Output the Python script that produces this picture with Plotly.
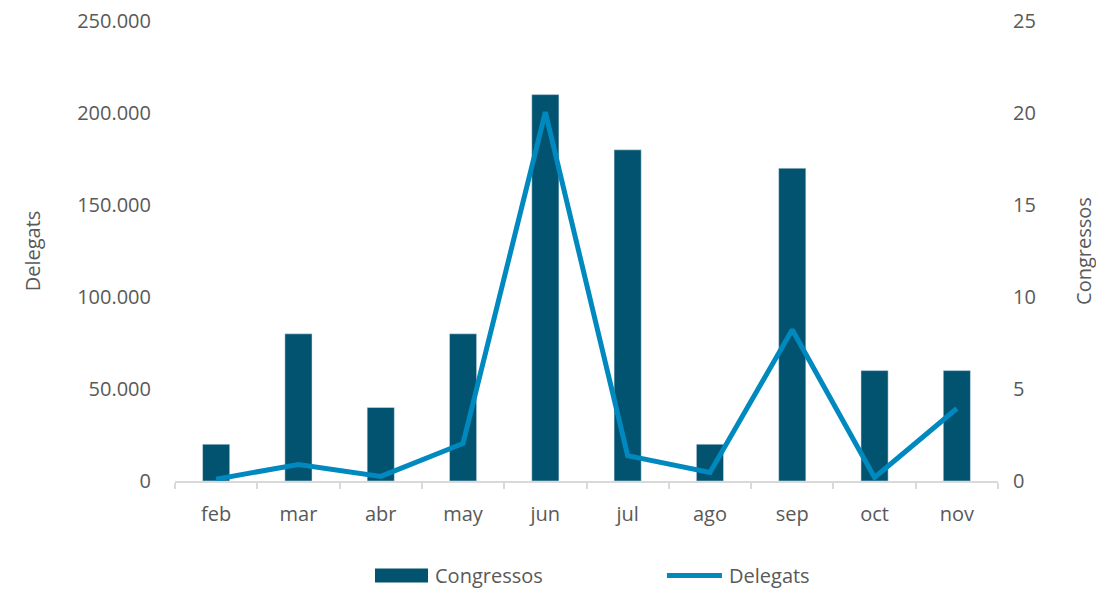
import plotly.graph_objects as go

months = ["feb", "mar", "abr", "may", "jun", "jul", "ago", "sep", "oct", "nov"]
congressos = [2, 8, 4, 8, 21, 18, 2, 17, 6, 6]
delegats = [1000, 9000, 2500, 20400, 200500, 13800, 4600, 82200, 1900, 39400]
left_ticks = [0, 50000, 100000, 150000, 200000, 250000]
left_labels = ["0", "50.000", "100.000", "150.000", "200.000", "250.000"]
right_ticks = [0, 5, 10, 15, 20, 25]

BAR = "#02536f"
LINE = "#0089bf"
GREY = "#595959"
FONT = "Open Sans"

fig = go.Figure()
# bars on the primary (right-side) axis so the line on the overlaying axis is drawn on top
fig.add_trace(go.Bar(x=months, y=congressos, name="Congressos", marker_color=BAR,
                     yaxis="y", width=0.33, showlegend=False))
fig.add_trace(go.Scatter(x=months, y=delegats, name="Delegats", mode="lines",
                         line=dict(color=LINE, width=5), yaxis="y2", showlegend=False))

fig.update_layout(
    width=1096, height=582,
    margin=dict(l=167, r=106, t=13, b=108.5, autoexpand=False),
    paper_bgcolor="white", plot_bgcolor="white",
    font=dict(family=FONT, size=20, color=GREY),
    showlegend=False,
    xaxis=dict(type="category", showline=True, linecolor="#d9d9d9", linewidth=1.5,
               ticks="outside", tickson="boundaries", ticklen=6, tickcolor="#d9d9d9",
               tickwidth=1.5, showgrid=False, ticklabelstandoff=14, automargin=False,
               tickfont=dict(size=20, color=GREY)),
    yaxis=dict(range=[0, 25], tickvals=right_ticks, side="right",
               showgrid=False, zeroline=False, showline=False, ticklabelstandoff=14,
               ticklabeloverflow="allow", automargin=False,
               title=dict(text="Congressos", standoff=42, font=dict(size=20, color=GREY)),
               tickfont=dict(size=20, color=GREY)),
    yaxis2=dict(range=[0, 250000], tickvals=left_ticks, ticktext=left_labels,
                overlaying="y", side="left",
                showgrid=False, zeroline=False, showline=False, ticklabelstandoff=23,
                ticklabeloverflow="allow", automargin=False,
                title=dict(text="Delegats", standoff=31, font=dict(size=20, color=GREY)),
                tickfont=dict(size=20, color=GREY)),
    bargap=0.67,
)

# custom legend
LEG_Y = -0.2052
fig.add_shape(type="rect", xref="paper", yref="paper", x0=0.243, x1=0.3074,
              y0=LEG_Y - 0.0152, y1=LEG_Y + 0.0152, fillcolor=BAR, line=dict(width=0))
fig.add_annotation(xref="paper", yref="paper", x=0.3135, y=LEG_Y, text="Congressos",
                   showarrow=False, xanchor="left", yanchor="middle",
                   font=dict(size=20, color=GREY, family=FONT))
fig.add_shape(type="line", xref="paper", yref="paper", x0=0.5978, x1=0.6646,
              y0=LEG_Y, y1=LEG_Y, line=dict(color=LINE, width=5))
fig.add_annotation(xref="paper", yref="paper", x=0.6707, y=LEG_Y, text="Delegats",
                   showarrow=False, xanchor="left", yanchor="middle",
                   font=dict(size=20, color=GREY, family=FONT))

fig.write_html("out.html")
